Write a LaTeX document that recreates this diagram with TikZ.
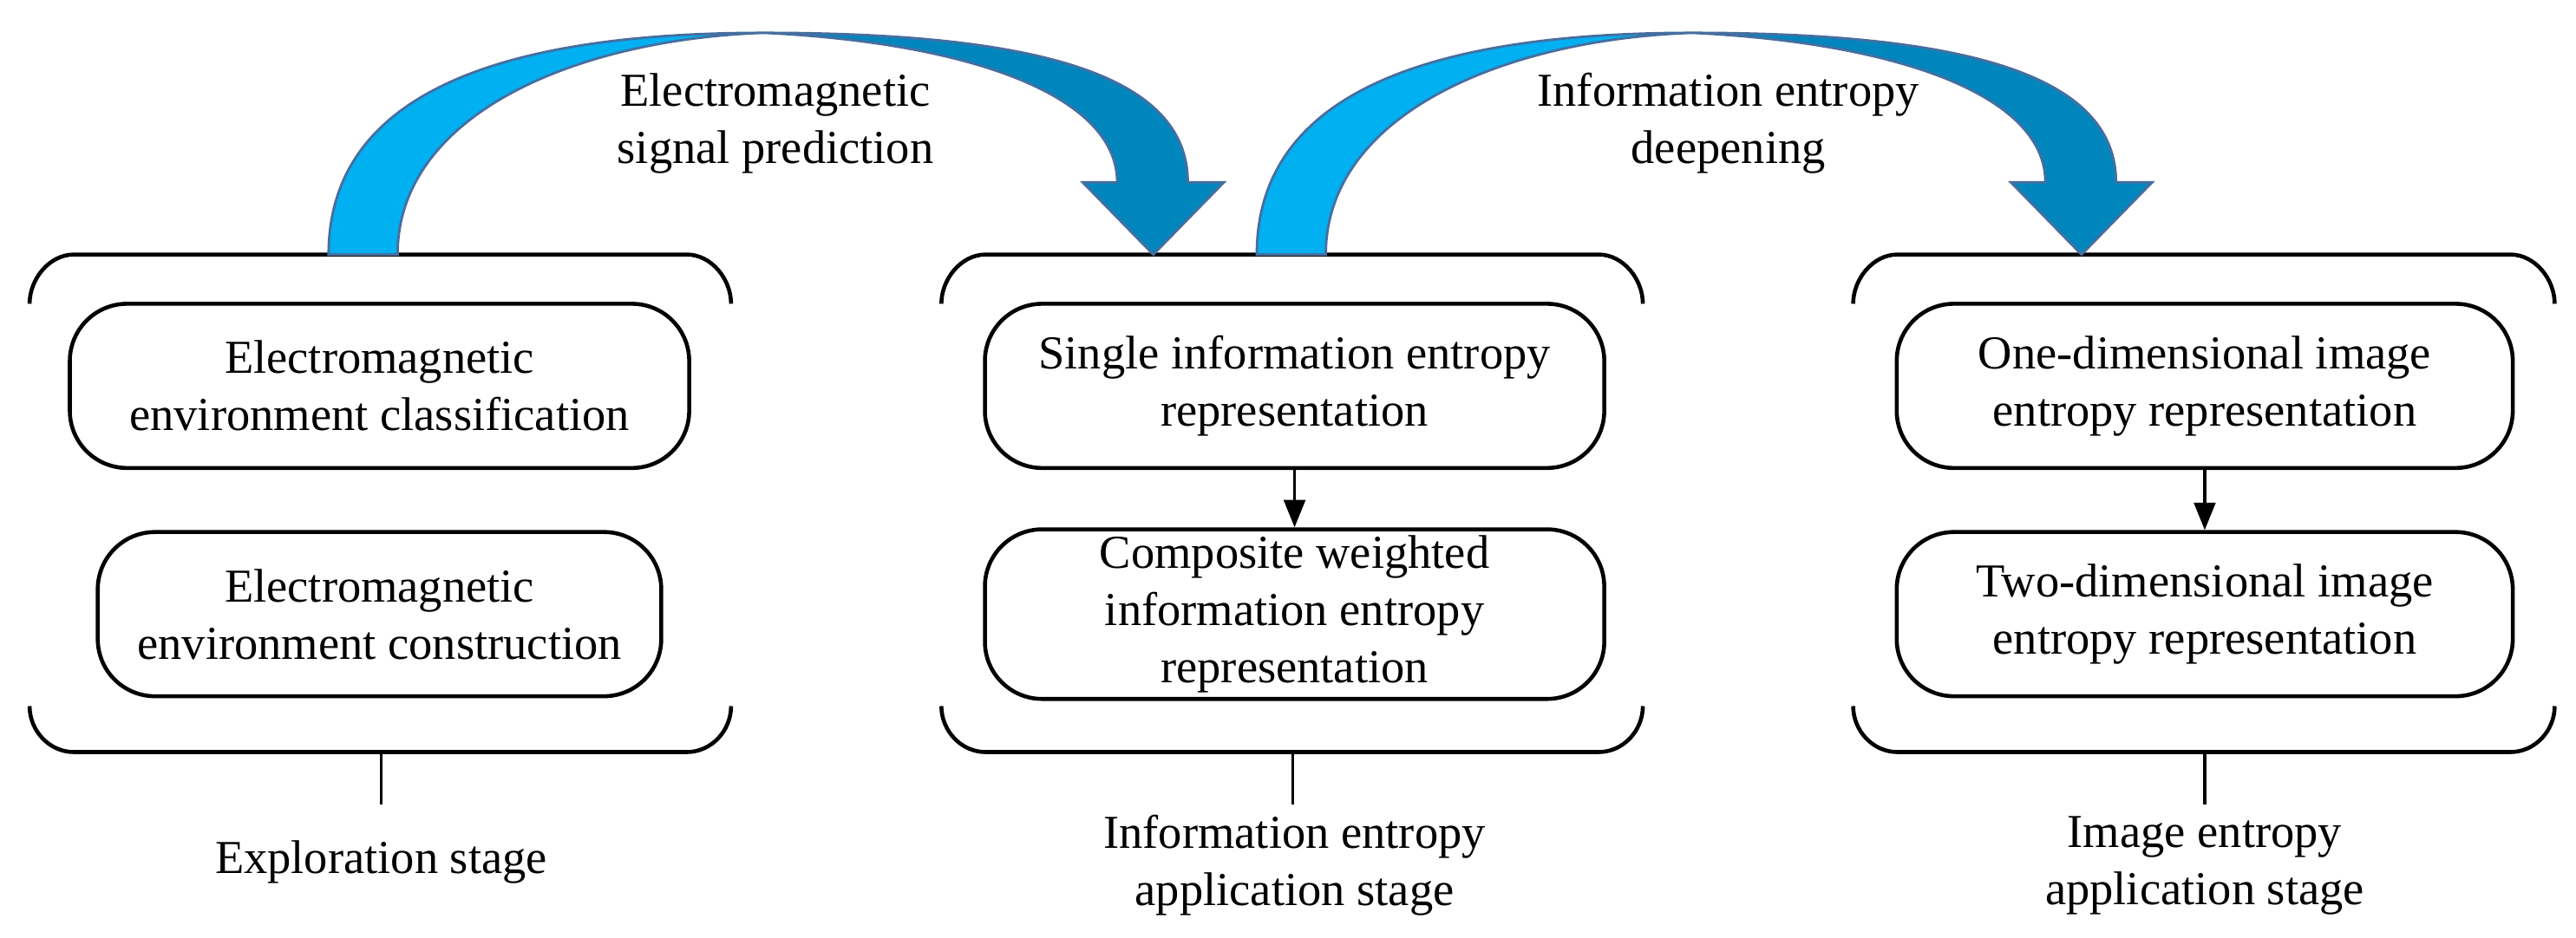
\documentclass[tikz,border=0pt]{standalone}
\usepackage{fontspec}
\usetikzlibrary{arrows.meta}
\setmainfont{Liberation Serif}
\definecolor{lb}{RGB}{0,176,240}
\definecolor{db}{RGB}{0,134,188}
\definecolor{eb}{RGB}{70,110,160}
\begin{document}
\begin{tikzpicture}[x=0.01894cm,y=-0.01894cm,
  txt/.style={font=\fontsize{15.5}{18.8}\selectfont,align=center},
  box/.style={draw,line width=1.3pt,rounded corners=0.66cm,txt,inner sep=2pt,minimum height=100*0.01894cm},
  br/.style={line width=1.3pt},
  st/.style={line width=1pt}]
\useasboundingbox (0,0) rectangle (1568,571);
% brackets
\foreach \x/\n in {18/A,573/B,1128/C}{
  \draw[br] (\x,185) .. controls (\x,170) and (\x+12,155) .. (\x+27,155) -- (\x+400,155) .. controls (\x+415,155) and (\x+427,170) .. (\x+427,185);
  \draw[br] (\x,430) .. controls (\x,445) and (\x+12,458) .. (\x+27,458) -- (\x+400,458) .. controls (\x+415,458) and (\x+427,445) .. (\x+427,430);
  \coordinate (\n) at (\x+214,458);
}
% curved arrows
\foreach \d/\n in {0/P,565/Q}{
  \begin{scope}[xshift=\d*0.01894cm]
  \fill[lb,draw=eb,line width=0.8pt] (200,155) .. controls (200,50) and (320,20) .. (465,20) .. controls (350,24) and (242,70) .. (242,155) -- cycle;
  \fill[db,draw=eb,line width=0.8pt] (465,20) .. controls (630,20) and (723,45) .. (723,111) -- (745,111) -- (702,155) -- (659,111) -- (680,111) .. controls (680,58) and (590,26) .. (465,20) -- cycle;
  \end{scope}
}
\node[txt] (l1) at (472,75) {Electromagnetic\\signal prediction};
\node[txt] (l2) at (1052,75) {Information entropy\\deepening};
% boxes
\node[box,minimum width=377*0.01894cm] (a1) at (231,235) {Electromagnetic\\environment classification};
\node[box,minimum width=343*0.01894cm] (a2) at (231,374) {Electromagnetic\\environment construction};
\node[box,minimum width=377*0.01894cm] (b1) at (788,235) {Single information entropy\\representation};
\node[box,minimum width=377*0.01894cm,minimum height=102*0.01894cm] (b2) at (788,374) {Composite weighted\\information entropy\\representation};
\node[box,minimum width=375*0.01894cm] (c1) at (1342,235) {One-dimensional image\\entropy representation};
\node[box,minimum width=375*0.01894cm] (c2) at (1342,374) {Two-dimensional image\\entropy representation};
\draw[st,-{Triangle[length=9pt,width=7pt]}] (b1) -- (b2);
\draw[st,-{Triangle[length=9pt,width=7pt]}] (c1) -- (c2);
% stages
\node[txt] (sa) at (232,525) {Exploration stage};
\node[txt] (sb) at (788,527) {Information entropy\\application stage};
\node[txt] (sc) at (1342,527) {Image entropy\\application stage};
\draw[st] (A) -- ++(0,32);
\draw[st] (B) -- ++(0,32);
\draw[st] (C) -- ++(0,32);
\end{tikzpicture}
\end{document}
